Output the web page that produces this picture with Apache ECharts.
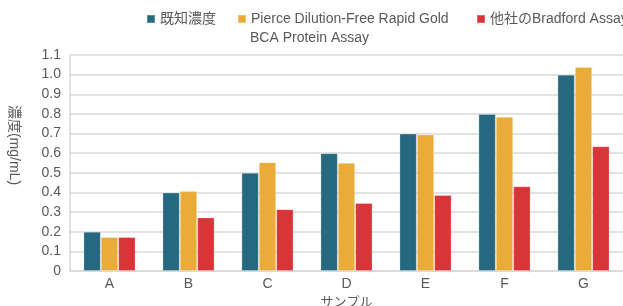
<!DOCTYPE html>
<html>
<head>
<meta charset="utf-8">
<script src="https://cdn.jsdelivr.net/npm/echarts@6/dist/echarts.min.js"></script>
<style>
  html, body { margin: 0; padding: 0; background: #fff; }
  #chart { width: 623px; height: 306px; }
</style>
</head>
<body>
<div id="chart"></div>
<script>
// サンプル別の濃度データ
var categories = ['A', 'B', 'C', 'D', 'E', 'F', 'G'];
var seriesNames = ['既知濃度', 'Pierce Dilution-Free Rapid Gold', '他社のBradford Assay'];
var secondLine = 'BCA Protein Assay'; // Pierce の凡例の2行目
var known = [0.2, 0.4, 0.5, 0.6, 0.7, 0.8, 1.0];
var pierce = [0.173, 0.407, 0.554, 0.551, 0.695, 0.785, 1.039];
var bradford = [0.173, 0.273, 0.315, 0.346, 0.387, 0.431, 0.635];
var colors = ['#26687f', '#e9ac39', '#d93437'];

var font = '"Liberation Sans", "Noto Sans CJK JP", sans-serif';
var chart = echarts.init(document.getElementById('chart'));

// 凡例は位置を合わせるため3つに分ける
var legendLeft = [146, 237, 476];
var legends = seriesNames.map(function (name, i) {
  return {
    data: [name],
    top: 10,
    left: legendLeft[i],
    padding: 0,
    itemWidth: 8,
    itemHeight: 8,
    icon: 'rect',
    textStyle: { fontFamily: font, fontSize: 14, color: '#595959', lineHeight: 18 }
  };
});

var option = {
  animation: false,
  color: colors,
  legend: legends,
  graphic: [{
    type: 'text',
    left: 250,
    top: 31,
    style: { text: secondLine, font: '14px ' + font, fill: '#595959' }
  }],
  grid: { left: 70, right: 0, top: 55, bottom: 35, outerBoundsMode: 'none' },
  xAxis: {
    type: 'category',
    data: categories,
    name: 'サンプル',
    nameLocation: 'middle',
    nameGap: 21,
    nameTextStyle: { fontFamily: font, fontSize: 13, color: '#595959' },
    axisLine: { lineStyle: { color: '#d9d9d9', width: 1.5 } },
    axisTick: { show: false },
    axisLabel: { fontFamily: font, fontSize: 14, color: '#595959', margin: 6 }
  },
  yAxis: {
    type: 'value',
    min: 0,
    max: 1.1,
    interval: 0.1,
    name: '濃度(mg/mL)',
    nameLocation: 'middle',
    nameRotate: -90,
    nameGap: 49,
    nameTextStyle: { fontFamily: font, fontSize: 14, color: '#595959', padding: [0, 36, 0, 0] },
    axisLine: { show: true, lineStyle: { color: '#d9d9d9', width: 1.5 } },
    axisTick: { show: false },
    splitLine: { lineStyle: { color: '#d9d9d9', width: 1.5 } },
    axisLabel: {
      fontFamily: font, fontSize: 14, color: '#595959', margin: 9,
      formatter: function (v) { return v === 0 ? '0' : v.toFixed(1); }
    }
  },
  series: [known, pierce, bradford].map(function (d, i) {
    return {
      name: seriesNames[i],
      type: 'bar',
      data: d,
      barGap: '0%',
      barCategoryGap: '34%',
      itemStyle: { borderColor: 'rgba(255,255,255,0.25)', borderWidth: 1 }
    };
  })
};

chart.setOption(option);
</script>
</body>
</html>
